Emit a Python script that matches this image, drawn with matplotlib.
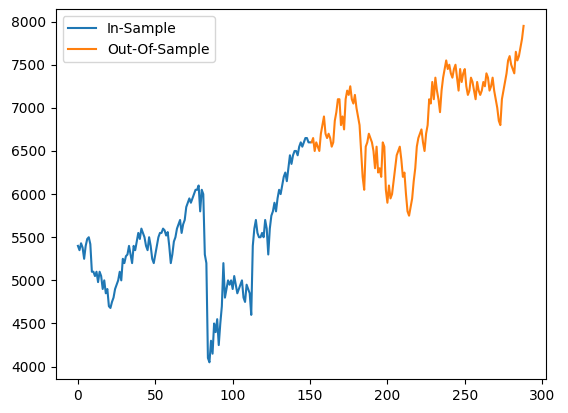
import numpy as np
import matplotlib.pyplot as plt

in_sample = [
    5400, 5350, 5430, 5380, 5250, 5400, 5480, 5500, 5420, 5100,
    5100, 5050, 5100, 4980, 5100, 5050, 4900, 5000, 4850, 4900,
    4700, 4680, 4750, 4800, 4900, 4950, 5000, 5100, 5000, 5250,
    5200, 5280, 5300, 5400, 5300, 5200, 5400, 5350, 5450, 5550,
    5480, 5600, 5550, 5500, 5400, 5350, 5500, 5400, 5250, 5200,
    5300, 5400, 5500, 5550, 5550, 5600, 5580, 5520, 5560, 5400,
    5200, 5300, 5450, 5500, 5600, 5650, 5700, 5550, 5650, 5700,
    5850, 5900, 5950, 5900, 5950, 6000, 6050, 6050, 6100, 5800,
    6050, 6000, 5300, 5200, 4100, 4050, 4300, 4150, 4500, 4400,
    4550, 4250, 4500, 4700, 5200, 4800, 4900, 5000, 4950, 5000,
    4900, 5050, 4950, 4850, 4900, 4950, 5000, 4800, 4750, 4950,
    4900, 4850, 4600, 5400, 5600, 5700, 5550, 5500, 5500, 5550,
    5500, 5700, 5600, 5300, 5600, 5750, 5800, 5900, 5800, 5950,
    6050, 6000, 6100, 6200, 6250, 6150, 6300, 6450, 6350, 6450,
    6500, 6500, 6450, 6550, 6600, 6550, 6600, 6650, 6650, 6600,
    6600,
]
out_sample = [
    6600, 6650, 6500, 6600, 6550, 6500, 6700, 6800, 6900,
    6700, 6650, 6700, 6650, 6550, 6600, 6850, 6950, 7100, 7100,
    6800, 6900, 6750, 7100, 7200, 7150, 7250, 7100, 7050, 7150,
    7000, 6900, 6800, 6500, 6200, 6050, 6550, 6600, 6700, 6650,
    6600, 6500, 6300, 6550, 6250, 6300, 6200, 6600, 6550, 6050,
    5900, 6100, 5950, 6000, 6150, 6300, 6450, 6500, 6550, 6400,
    6200, 6250, 6000, 5800, 5750, 5850, 5950, 6150, 6300, 6550,
    6650, 6700, 6750, 6600, 6500, 6700, 6800, 7100, 7050, 7300,
    7100, 7350, 7200, 7100, 6950, 7200, 7350, 7450, 7550, 7450,
    7500, 7400, 7350, 7450, 7500, 7350, 7200, 7450, 7300, 7400,
    7450, 7250, 7150, 7200, 7350, 7300, 7200, 7100, 7300, 7200,
    7150, 7200, 7300, 7250, 7400, 7350, 7200, 7250, 7350, 7200,
    7100, 7000, 6850, 6800, 7100, 7200, 7300, 7400, 7550, 7600,
    7500, 7450, 7400, 7650, 7550, 7600, 7700, 7800, 7950,
]

x_in = np.arange(len(in_sample))
x_out = np.arange(len(in_sample), len(in_sample) + len(out_sample))

fig, ax = plt.subplots(figsize=(5.68, 4.13), dpi=100)
ax.plot(x_in, in_sample, label='In-Sample')
ax.plot(x_out, out_sample, label='Out-Of-Sample')
ax.legend(loc='upper left')
fig.subplots_adjust(left=0.098, right=0.961, top=0.978, bottom=0.082)
fig.savefig('out.png')
